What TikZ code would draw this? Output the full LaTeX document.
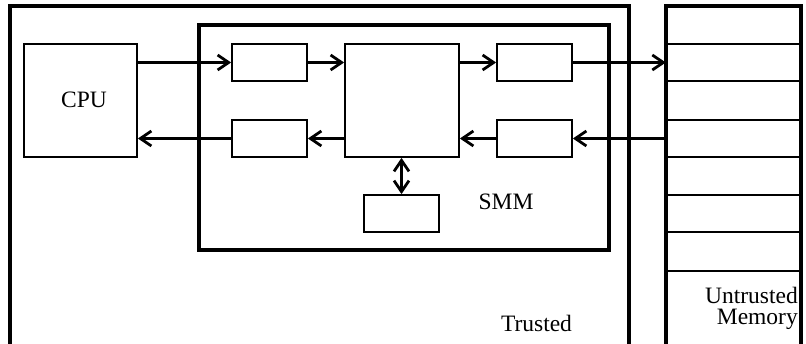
\documentclass[tikz,border=0pt]{standalone}
\usepackage{fontspec}
\setmainfont{Liberation Serif}
\usetikzlibrary{arrows.meta}
\begin{document}
\begin{tikzpicture}[x=1pt,y=-1pt,
  box/.style={draw, line width=1.8pt, inner sep=0pt, minimum width=75pt, minimum height=37pt},
  bigbox/.style={draw, line width=1.8pt, inner sep=0pt, minimum width=113pt, minimum height=113pt},
  cell/.style={inner sep=0pt, minimum width=136pt},
  arr/.style={line width=2.8pt, -{Straight Barb[length=11pt,width=15pt,line width=2.8pt]}},
  arrboth/.style={line width=2.8pt, {Straight Barb[length=11pt,width=15pt,line width=2.8pt]}-{Straight Barb[length=11pt,width=15pt,line width=2.8pt]}},
  lbl/.style={font=\fontsize{23.5}{21}\selectfont, inner sep=0pt}]
\useasboundingbox (0,0) rectangle (806,344);
% Trusted region (open at bottom)
\draw[line width=3.4pt] (10,346) -- (10,6) -- (629,6) -- (629,346);
% SMM box
\node[draw, line width=3.4pt, inner sep=0pt, minimum width=410pt, minimum height=225pt] (smm) at (404,137.5) {};
% components
\node[bigbox] (cpu) at (80.5,100.5) {};
\node[lbl] (cpulbl) at (84,100) {CPU};
\node[box] (tl) at (269.5,62.5) {};
\node[box] (bl) at (269.5,138.5) {};
\node[bigbox, minimum width=114pt] (ctr) at (402,100.5) {};
\node[box] (tr) at (534.5,62.5) {};
\node[box] (br) at (534.5,138.5) {};
\node[box] (low) at (401.5,213.5) {};
\node[lbl] (smmlbl) at (506,202) {SMM};
\node[lbl, anchor=base] (trustlbl) at (536.5,332) {Trusted};
% Memory
\node[cell, minimum height=38pt] (m1) at (734,25) {};
\node[cell, minimum height=37pt] (m2) at (734,62.5) {};
\node[cell, minimum height=39pt] (m3) at (734,100.5) {};
\node[cell, minimum height=37pt] (m4) at (734,138.5) {};
\node[cell, minimum height=38pt] (m5) at (734,176) {};
\node[cell, minimum height=37pt] (m6) at (734,213.5) {};
\node[cell, minimum height=39pt] (m7) at (734,251.5) {};
\foreach \c in {m1,m2,m3,m4,m5,m6,m7}
  \draw[line width=1.8pt] (\c.south west) -- (\c.south east);
\draw[line width=3.4pt] (666,346) -- (666,6) -- (801,6) -- (801,346);
\node[lbl, align=right, anchor=east] (memlbl) at (798,308) {Untrusted\\Memory};
% connectors
\draw[arr] (tl.west -| cpu.east) -- (tl.west);
\draw[arr] (tl.east) -- (tl.east -| ctr.west);
\draw[arr] (tr.west -| ctr.east) -- (tr.west);
\draw[arr] (tr.east) -- (m2.west);
\draw[arr] (m4.west) -- (br.east);
\draw[arr] (br.west) -- (br.west -| ctr.east);
\draw[arr] (bl.east -| ctr.west) -- (bl.east);
\draw[arr] (bl.west) -- (bl.west -| cpu.east);
\draw[arrboth] (ctr.south -| low.north) -- (low.north);
\end{tikzpicture}
\end{document}
